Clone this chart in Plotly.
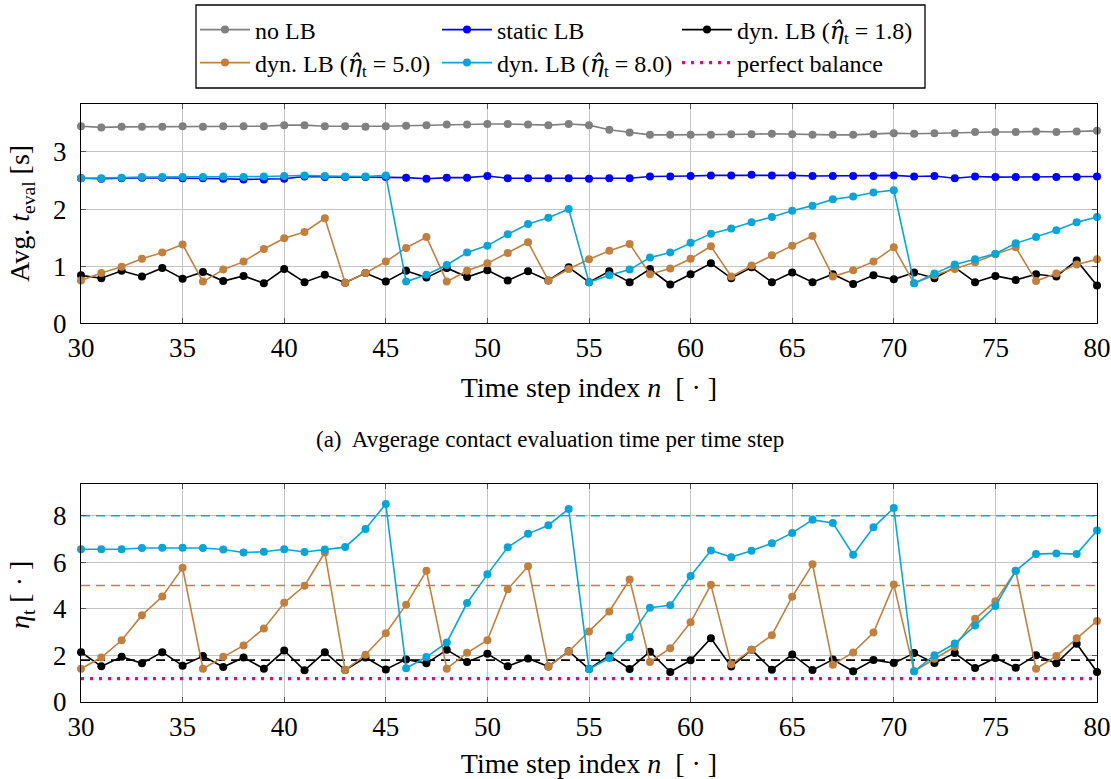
import plotly.graph_objects as go

# ---------------- data ----------------
n = list(range(30, 81))

no_lb = [3.45, 3.43, 3.44, 3.44, 3.44, 3.45, 3.44, 3.45, 3.45, 3.45,
         3.47, 3.47, 3.45, 3.45, 3.44, 3.45, 3.46, 3.47, 3.48, 3.48,
         3.49, 3.49, 3.48, 3.47, 3.49, 3.47, 3.39, 3.34, 3.30, 3.30,
         3.30, 3.30, 3.31, 3.31, 3.32, 3.31, 3.30, 3.30, 3.30, 3.31,
         3.33, 3.32, 3.33, 3.33, 3.35, 3.35, 3.35, 3.36, 3.35, 3.36, 3.37]

static_lb = [2.54, 2.53, 2.54, 2.55, 2.55, 2.54, 2.54, 2.53, 2.52, 2.52,
             2.53, 2.57, 2.56, 2.56, 2.56, 2.56, 2.55, 2.53, 2.55, 2.55,
             2.58, 2.54, 2.54, 2.54, 2.54, 2.53, 2.54, 2.54, 2.57, 2.57,
             2.58, 2.59, 2.59, 2.60, 2.59, 2.59, 2.58, 2.58, 2.58, 2.58,
             2.59, 2.57, 2.58, 2.54, 2.57, 2.56, 2.56, 2.56, 2.56, 2.56, 2.57]

t_dyn18 = [0.84, 0.79, 0.92, 0.82, 0.97, 0.78, 0.90, 0.74, 0.83, 0.70,
           0.95, 0.72, 0.85, 0.71, 0.88, 0.73, 0.92, 0.80, 0.97, 0.81,
           0.93, 0.75, 0.91, 0.75, 0.98, 0.72, 0.91, 0.72, 0.95, 0.68,
           0.86, 1.05, 0.79, 0.98, 0.72, 0.89, 0.72, 0.86, 0.69, 0.84,
           0.77, 0.89, 0.79, 0.98, 0.72, 0.83, 0.76, 0.86, 0.82, 1.10, 0.66]

t_dyn50 = [0.75, 0.88, 0.99, 1.13, 1.24, 1.38, 0.73, 0.94, 1.08, 1.30,
           1.49, 1.60, 1.84, 0.71, 0.88, 1.08, 1.32, 1.51, 0.73, 0.92,
           1.05, 1.23, 1.42, 0.75, 0.95, 1.12, 1.27, 1.39, 0.86, 0.96,
           1.13, 1.35, 0.82, 1.01, 1.19, 1.36, 1.53, 0.82, 0.93, 1.08,
           1.33, 0.70, 0.84, 0.95, 1.07, 1.21, 1.33, 0.74, 0.87, 1.03, 1.12]

t_dyn80 = [2.54, 2.54, 2.55, 2.56, 2.56, 2.56, 2.56, 2.57, 2.56, 2.57,
           2.58, 2.59, 2.58, 2.57, 2.57, 2.59, 0.73, 0.85, 1.02, 1.24,
           1.36, 1.56, 1.74, 1.85, 2.00, 0.72, 0.84, 0.94, 1.15, 1.24,
           1.41, 1.57, 1.66, 1.77, 1.86, 1.97, 2.06, 2.17, 2.22, 2.29,
           2.33, 0.70, 0.87, 1.03, 1.12, 1.22, 1.40, 1.51, 1.63, 1.77, 1.86]

eta_dyn18 = [2.14, 1.53, 1.94, 1.66, 2.14, 1.56, 1.97, 1.50, 1.91, 1.43,
             2.21, 1.36, 2.14, 1.37, 1.91, 1.40, 1.83, 1.66, 2.24, 1.72,
             2.07, 1.54, 1.87, 1.52, 2.18, 1.42, 2.00, 1.42, 2.16, 1.29,
             1.79, 2.74, 1.52, 2.24, 1.39, 2.04, 1.37, 1.82, 1.32, 1.80,
             1.67, 2.10, 1.67, 2.10, 1.46, 1.89, 1.47, 2.01, 1.66, 2.50, 1.29]

eta_dyn50 = [1.43, 1.91, 2.65, 3.73, 4.53, 5.76, 1.43, 1.94, 2.43, 3.16,
             4.26, 4.99, 6.42, 1.37, 2.03, 2.95, 4.18, 5.63, 1.43, 2.11,
             2.65, 4.84, 5.83, 1.52, 2.17, 3.03, 3.89, 5.26, 1.72, 2.31,
             3.42, 5.03, 1.62, 2.24, 2.87, 4.52, 5.91, 1.60, 2.13, 2.98,
             5.04, 1.32, 1.86, 2.37, 3.57, 4.33, 5.63, 1.43, 1.97, 2.74, 3.48]

eta_dyn80 = [6.56, 6.56, 6.56, 6.61, 6.62, 6.62, 6.61, 6.55, 6.42, 6.45,
             6.56, 6.44, 6.55, 6.65, 7.43, 8.50, 1.45, 1.93, 2.56, 4.25,
             5.48, 6.64, 7.22, 7.59, 8.29, 1.42, 1.89, 2.78, 4.05, 4.15,
             5.41, 6.51, 6.22, 6.49, 6.82, 7.26, 7.82, 7.69, 6.32, 7.50,
             8.33, 1.32, 2.01, 2.51, 3.28, 4.12, 5.63, 6.35, 6.38, 6.35, 7.36]

eta_targets = [1.8, 5.0, 8.0]
perfect_balance = 1.0

x_ticks = [30, 35, 40, 45, 50, 55, 60, 65, 70, 75, 80]
y1_ticks = [0, 1, 2, 3]
y2_ticks = [0, 2, 4, 6, 8]

# ---------------- style ----------------
FONT = "Liberation Serif"
C_GRAY = "#808080"
C_BLUE = "#0000ff"
C_BLACK = "#000000"
C_BROWN = "#bf8040"
C_CYAN = "#0aa5d6"
C_MAG = "#ec008c"
LW = 1.6
MS = 8

W, H = 1111, 779
PL, PR, PT, PB = 81, 14, 104, 77
PW, PH = W - PL - PR, H - PT - PB


def px_x(px):
    return (px - PL) / PW


def px_y(py):
    return (H - PB - py) / PH


fig = go.Figure()


def line_trace(x, y, color, name, xa, ya, legend="legend", showlegend=True):
    return go.Scatter(
        x=x, y=y, mode="lines+markers", name=name,
        line=dict(color=color, width=LW),
        marker=dict(color=color, size=MS, symbol="circle"),
        xaxis=xa, yaxis=ya, legend=legend, showlegend=showlegend,
        cliponaxis=False,
    )


ETA_HAT = "<span style=\"font-family:'DejaVu Serif'\"><i>η̂</i></span>"
lbl18 = "dyn. LB (" + ETA_HAT + "<sub>t</sub> = 1.8)"
lbl50 = "dyn. LB (" + ETA_HAT + "<sub>t</sub> = 5.0)"
lbl80 = "dyn. LB (" + ETA_HAT + "<sub>t</sub> = 8.0)"

# top subplot
fig.add_trace(line_trace(n, no_lb, C_GRAY, "no LB", "x", "y", "legend"))
fig.add_trace(line_trace(n, static_lb, C_BLUE, "static LB", "x", "y", "legend2"))
fig.add_trace(line_trace(n, t_dyn18, C_BLACK, lbl18, "x", "y", "legend3"))
fig.add_trace(line_trace(n, t_dyn50, C_BROWN, lbl50, "x", "y", "legend4"))
fig.add_trace(line_trace(n, t_dyn80, C_CYAN, lbl80, "x", "y", "legend5"))

# bottom subplot: reference lines
for val, col in zip(eta_targets, [C_BLACK, C_BROWN, C_CYAN]):
    fig.add_trace(go.Scatter(
        x=[n[0], n[-1]], y=[val, val], mode="lines",
        line=dict(color=col, width=1.6, dash="9px,6px"),
        xaxis="x2", yaxis="y2", showlegend=False, hoverinfo="skip"))
fig.add_trace(go.Scatter(
    x=[n[0], n[-1]], y=[perfect_balance, perfect_balance], mode="lines",
    name="perfect balance",
    line=dict(color=C_MAG, width=3.2, dash="3px,6px"),
    xaxis="x2", yaxis="y2", legend="legend6", showlegend=True))

fig.add_trace(line_trace(n, eta_dyn18, C_BLACK, lbl18, "x2", "y2", showlegend=False))
fig.add_trace(line_trace(n, eta_dyn50, C_BROWN, lbl50, "x2", "y2", showlegend=False))
fig.add_trace(line_trace(n, eta_dyn80, C_CYAN, lbl80, "x2", "y2", showlegend=False))

axis_common = dict(
    showline=True, linecolor="#000000", linewidth=1.3, mirror="ticks",
    ticks="inside", ticklen=5, tickcolor="#555555", tickwidth=1,
    showgrid=True, gridcolor="#c4c4c4", gridwidth=1,
    zeroline=False, automargin=False,
    tickfont=dict(family=FONT, size=27, color="#000000"),
)

xtitle = "Time step index <i>n</i>  [ · ]"

fig.update_layout(
    width=W, height=H,
    margin=dict(l=PL, r=PR, t=PT, b=PB, autoexpand=False),
    paper_bgcolor="white", plot_bgcolor="white",
    font=dict(family=FONT, color="#000000"),
    xaxis=dict(domain=[0, 1], anchor="y", range=[30, 80], tickvals=x_ticks,
               title=dict(text=xtitle, font=dict(family=FONT, size=28), standoff=15),
               **axis_common),
    yaxis=dict(domain=[px_y(323.3), 1], anchor="x", range=[0, 3.84], tickvals=y1_ticks,
               ticklabelstandoff=8, **axis_common),
    xaxis2=dict(domain=[0, 1], anchor="y2", range=[30, 80], tickvals=x_ticks,
                title=dict(text=xtitle, font=dict(family=FONT, size=28), standoff=15),
                **axis_common),
    yaxis2=dict(domain=[0, px_y(484)], anchor="x2", range=[0, 9.36], tickvals=y2_ticks,
                ticklabelstandoff=8, **axis_common),
    showlegend=True,
)

leg_common = dict(
    xref="container", yref="container", xanchor="left", yanchor="middle",
    orientation="v", bgcolor="rgba(0,0,0,0)", borderwidth=0,
    font=dict(family=FONT, size=24, color="#000000"),
    itemwidth=50, itemclick=False, itemdoubleclick=False,
)
col_x = [195, 437, 677]
row_y = [30, 63]
fig.update_layout(
    legend=dict(x=col_x[0] / W, y=1 - row_y[0] / H, **leg_common),
    legend2=dict(x=col_x[1] / W, y=1 - row_y[0] / H, **leg_common),
    legend3=dict(x=col_x[2] / W, y=1 - row_y[0] / H, **leg_common),
    legend4=dict(x=col_x[0] / W, y=1 - row_y[1] / H, **leg_common),
    legend5=dict(x=col_x[1] / W, y=1 - row_y[1] / H, **leg_common),
    legend6=dict(x=col_x[2] / W, y=1 - row_y[1] / H, **leg_common),
)

# legend frame
fig.add_shape(type="rect", xref="paper", yref="paper",
              x0=px_x(196), x1=px_x(925), y0=px_y(88), y1=px_y(5),
              line=dict(color="#000000", width=1.3), fillcolor="rgba(0,0,0,0)")

# y-axis titles
fig.add_annotation(text="Avg. <i>t</i><sub>eval</sub> [s]", textangle=-90,
                   xref="paper", yref="paper", x=px_x(21), y=px_y(214),
                   xanchor="center", yanchor="middle", showarrow=False,
                   font=dict(family=FONT, size=28, color="#000000"))
fig.add_annotation(text="<i>η</i><sub>t</sub> [ · ]", textangle=-90,
                   xref="paper", yref="paper", x=px_x(21), y=px_y(595),
                   xanchor="center", yanchor="middle", showarrow=False,
                   font=dict(family=FONT, size=28, color="#000000"))

# caption
fig.add_annotation(
    text="(a)  Avgerage contact evaluation time per time step",
    xref="paper", yref="paper", x=px_x(550), y=px_y(439),
    xanchor="center", yanchor="middle", showarrow=False,
    font=dict(family=FONT, size=23, color="#000000"))

fig.write_html("out.html")
